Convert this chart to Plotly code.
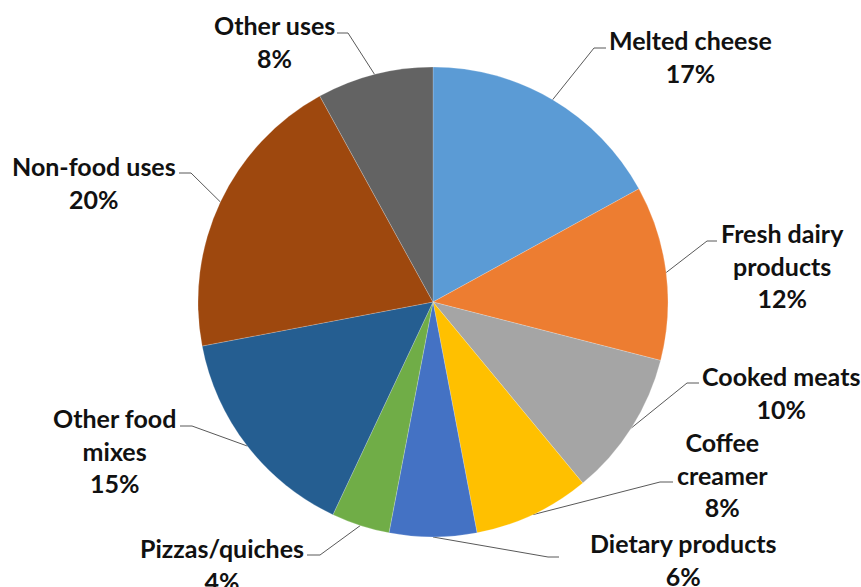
import math
import plotly.graph_objects as go

# ---- data ----
categories = ["Melted cheese", "Fresh dairy products", "Cooked meats", "Coffee creamer",
              "Dietary products", "Pizzas/quiches", "Other food mixes", "Non-food uses", "Other uses"]
label_text = ["Melted cheese", "Fresh dairy<br>products", "Cooked meats", "Coffee<br>creamer",
              "Dietary products", "Pizzas/quiches", "Other food<br>mixes", "Non-food uses", "Other uses"]
shares = [17, 12, 10, 8, 6, 4, 15, 20, 8]
colors = ["#5B9BD5", "#ED7D31", "#A5A5A5", "#FFC000", "#4472C4",
          "#70AD47", "#255E91", "#9E480E", "#636363"]

# ---- layout (pixels) ----
W, H = 861, 587
CX, CY, R = 433, 302, 235
# label block centres
lab_x = [690, 782, 781, 722, 683, 222, 114, 94, 274]
lab_y = [56, 265, 392, 474, 559, 564, 450, 182, 41]
# leader: horizontal segment start x, elbow x, y
lead_x0 = [606, 717, 699, 673, 559, 307, 180, 179, 337]
lead_x1 = [594, 707, 687, 660, 548, 320, 192, 191, 348]
lead_y = [48, 241, 383, 482, 557, 555, 426, 173, 33]

fig = go.Figure()
fig.add_trace(go.Pie(
    labels=categories, values=shares, sort=False, direction="clockwise", rotation=0,
    marker=dict(colors=colors, line=dict(color="rgba(255,255,255,0.4)", width=0.5)),
    textinfo="none", hoverinfo="label+percent", showlegend=False,
    domain=dict(x=[(CX - R) / W, (CX + R) / W], y=[1 - (CY + R) / H, 1 - (CY - R) / H]),
))

total = sum(shares)
cum = 0
for i, v in enumerate(shares):
    mid = (cum + v / 2) / total * 2 * math.pi
    cum += v
    ex = CX + R * math.sin(mid)
    ey = CY - R * math.cos(mid)
    fig.add_trace(go.Scatter(
        x=[lead_x0[i], lead_x1[i], ex], y=[lead_y[i], lead_y[i], ey],
        mode="lines", line=dict(color="#595959", width=1), hoverinfo="skip", showlegend=False,
        xaxis="x", yaxis="y"))
    pct = round(v / total * 100)
    fig.add_annotation(x=lab_x[i], y=lab_y[i], xref="x", yref="y",
                       text=f"<b>{label_text[i]}<br>{pct}%</b>", showarrow=False,
                       xanchor="center", yanchor="middle", align="center",
                       font=dict(family="Lato", size=25, color="#111111"))

fig.update_layout(
    width=W, height=H, margin=dict(l=0, r=0, t=0, b=0),
    paper_bgcolor="white", plot_bgcolor="rgba(0,0,0,0)",
    xaxis=dict(range=[0, W], visible=False, fixedrange=True),
    yaxis=dict(range=[H, 0], visible=False, fixedrange=True),
)
fig.write_html("out.html", config={"displayModeBar": False},
               post_script="document.body.style.margin='0';document.body.style.overflow='hidden';")
